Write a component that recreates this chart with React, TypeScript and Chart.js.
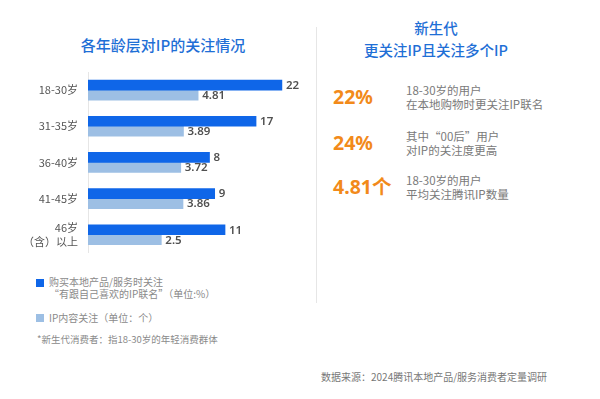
import React, { useEffect, useRef } from "react";
import { Chart, registerables } from "chart.js";

Chart.register(...registerables);

const categories: (string | string[])[] = ["18-30岁", "31-35岁", "36-40岁", "41-45岁", ["46岁", "（含）以上"]];
const ipCollabPct = [22, 17, 8, 9, 11];
const ipCount = [4.81, 3.89, 3.72, 3.86, 2.5];
const seriesNames = ["购买本地产品/服务时关注“有跟自己喜欢的IP联名”（单位:%）", "IP内容关注（单位：个）"];

const DARK = "#0f66e8";
const LIGHT = "#9dbfe4";
const TITLE_BLUE = "#1f6fd6";
const ORANGE = "#f28a1a";
const CJK = '"Noto Sans CJK SC", "Noto Sans", sans-serif';

const valueLabels = {
  id: "valueLabels",
  afterDatasetsDraw(chart: any) {
    const ctx = chart.ctx;
    ctx.save();
    ctx.font = `600 11.5px "Noto Sans", ${CJK}`;
    ctx.fillStyle = "#505050";
    ctx.textBaseline = "middle";
    ctx.textAlign = "left";
    chart.data.datasets.forEach((ds: any, i: number) => {
      const meta = chart.getDatasetMeta(i);
      meta.data.forEach((el: any, j: number) => {
        ctx.fillText(String(ds.data[j]), el.x + 4, el.y + 0.5);
      });
    });
    ctx.restore();
  },
};

function BarChart() {
  const ref = useRef<HTMLCanvasElement>(null);
  useEffect(() => {
    if (!ref.current) return;
    const chart = new Chart(ref.current, {
      type: "bar",
      data: {
        labels: categories as any,
        datasets: [
          {
            label: seriesNames[0],
            data: ipCollabPct,
            backgroundColor: DARK,
            xAxisID: "x",
            base: -15.5,
            barThickness: 10,
          } as any,
          {
            label: seriesNames[1],
            data: ipCount,
            backgroundColor: LIGHT,
            xAxisID: "x2",
            base: -2.1,
            barThickness: 10,
          } as any,
        ],
      },
      options: {
        indexAxis: "y",
        responsive: false,
        animation: false,
        layout: { padding: { left: 0, top: 72, bottom: 12, right: 10 } },
        plugins: { legend: { display: false }, tooltip: { enabled: false } },
        datasets: { bar: { categoryPercentage: 0.68, barPercentage: 1 } },
        scales: {
          x: { display: false, min: -15.5, max: 25.5 },
          x2: { display: false, min: -2.1, max: 11.2 },
          y: {
            afterFit: (s: any) => {
              s.width = 88;
            },
            grid: { display: false, drawTicks: false },
            border: { display: true, color: "#e6e6e6", width: 1 },
            ticks: {
              padding: 10,
              color: "#555",
              font: { family: CJK, size: 11, lineHeight: 1.3 },
            },
          },
        },
      } as any,
      plugins: [valueLabels],
    });
    return () => chart.destroy();
  }, []);
  return (
    <canvas
      ref={ref}
      width={310}
      height={270}
      style={{ position: "absolute", left: 0, top: 0, width: 310, height: 270 }}
    />
  );
}

const stats = [
  { big: "22%", lines: ["18-30岁的用户", "在本地购物时更关注IP联名"], y: 97 },
  { big: "24%", lines: ["其中“00后”用户", "对IP的关注度更高"], y: 143 },
  { big: "4.81个", lines: ["18-30岁的用户", "平均关注腾讯IP数量"], y: 187 },
];

export default function App() {
  const abs = (o: React.CSSProperties): React.CSSProperties => ({ position: "absolute", whiteSpace: "nowrap", ...o });
  return (
    <div
      style={{
        position: "fixed",
        left: 0,
        top: 0,
        width: 600,
        height: 399,
        background: "#fff",
        fontFamily: CJK,
        overflow: "hidden",
      }}
    >
      <div style={abs({ left: 0, width: 326, top: 34, textAlign: "center", fontSize: 15, lineHeight: "22px", color: TITLE_BLUE, fontWeight: 500 })}>
        各年龄层对IP的关注情况
      </div>
      <BarChart />
      {/* legend */}
      <div style={abs({ left: 36, top: 279, width: 8, height: 8, background: DARK })} />
      <div style={abs({ left: 49, top: 276, fontSize: 10, lineHeight: "12px", color: "#8a8a8a" })}>
        购买本地产品/服务时关注
        <br />
        “有跟自己喜欢的IP联名”（单位:%）
      </div>
      <div style={abs({ left: 36, top: 314, width: 8, height: 8, background: LIGHT })} />
      <div style={abs({ left: 49, top: 312, fontSize: 10, lineHeight: "12px", color: "#8a8a8a" })}>IP内容关注（单位：个）</div>
      <div style={abs({ left: 37, top: 333, fontSize: 9.5, lineHeight: "12px", color: "#8a8a8a" })}>*新生代消费者：指18-30岁的年轻消费群体</div>

      {/* divider */}
      <div style={abs({ left: 316, top: 27, width: 1, height: 276, background: "#e6e6e6" })} />

      {/* right panel */}
      <div style={abs({ left: 316, width: 240, top: 17, textAlign: "center", fontSize: 14.5, lineHeight: "22px", color: TITLE_BLUE, fontWeight: 500 })}>
        新生代
        <br />
        更关注IP且关注多个IP
      </div>
      {stats.map((s, i) => (
        <React.Fragment key={i}>
          <div style={abs({ left: 333, top: s.y - 14, fontSize: 19.5, lineHeight: "28px", color: ORANGE, fontWeight: 700, fontFamily: `"Noto Sans", ${CJK}` })}>
            {s.big}
          </div>
          <div style={abs({ left: 406, top: s.y - 14, fontSize: 11.5, lineHeight: "14px", color: "#7a7a7a" })}>
            {s.lines[0]}
            <br />
            {s.lines[1]}
          </div>
        </React.Fragment>
      ))}

      <div style={abs({ left: 321, top: 370, fontSize: 10, lineHeight: "14px", color: "#777" })}>
        数据来源：2024腾讯本地产品/服务消费者定量调研
      </div>
    </div>
  );
}
